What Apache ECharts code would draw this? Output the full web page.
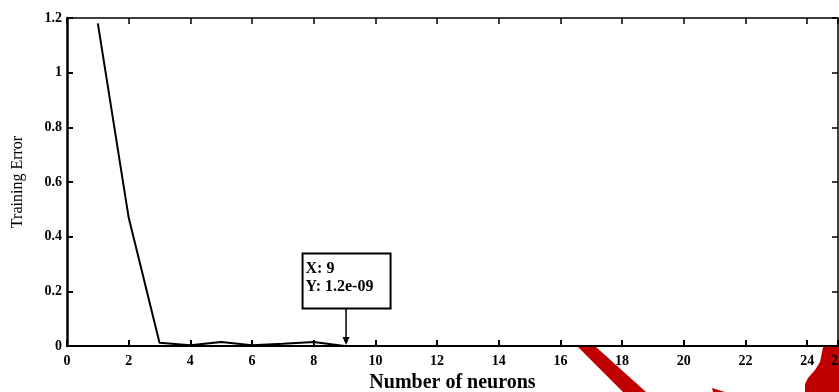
<!DOCTYPE html>
<html>
<head>
<meta charset="utf-8">
<script src="https://cdn.jsdelivr.net/npm/echarts@6/dist/echarts.min.js"></script>
<style>
html,body{margin:0;padding:0;background:#fff;}
#chart{width:839px;height:392px;}
</style>
</head>
<body>
<div id="chart"></div>
<script>
// ---- data ----
const neurons = [1, 2, 3, 4, 5, 6, 7, 8, 9];
const trainingError = [1.18, 0.47, 0.012, 0.003, 0.015, 0.003, 0.008, 0.015, 1.2e-9];
const xRange = [0, 25];
const yRange = [0, 1.2];
const datatipPoint = [9, 1.2e-9];
const datatipLines = ['X: 9', 'Y: 1.2e-09'];
const xTitle = 'Number of neurons';
const yTitle = 'Training Error';

const FONT = '"Liberation Serif", "DejaVu Serif", serif';
const chart = echarts.init(document.getElementById('chart'), null, {renderer: 'canvas'});

const tickLabel = {fontFamily: FONT, fontSize: 14, fontWeight: 'bold', color: '#000'};

chart.setOption({
  animation: false,
  backgroundColor: '#fff',
  grid: {left: 67, top: 18, right: 1, bottom: 46, containLabel: false, outerBoundsMode: 'none'},
  xAxis: [{
    type: 'value', min: xRange[0], max: xRange[1], interval: 2, position: 'bottom',
    name: xTitle, nameLocation: 'middle', nameGap: 26,
    nameTextStyle: {fontFamily: FONT, fontSize: 20, fontWeight: 'bold', color: '#000'},
    axisLine: {show: true, onZero: false, lineStyle: {color: '#000', width: 2}},
    axisTick: {show: true, inside: true, length: 6, lineStyle: {color: '#000', width: 2}},
    axisLabel: Object.assign({margin: 8}, tickLabel),
    splitLine: {show: false}
  }, {
    type: 'value', min: xRange[0], max: xRange[1], interval: 2, position: 'top',
    axisLine: {show: true, onZero: false, lineStyle: {color: '#000', width: 1.5}},
    axisTick: {show: true, inside: true, length: 6, lineStyle: {color: '#000', width: 1.5}},
    axisLabel: {show: false},
    splitLine: {show: false}
  }],
  yAxis: [{
    type: 'value', min: yRange[0], max: yRange[1], interval: 0.2, position: 'left',
    name: yTitle, nameLocation: 'middle', nameGap: 41, nameRotate: 90,
    nameTextStyle: {fontFamily: FONT, fontSize: 16, color: '#000'},
    axisLine: {show: true, onZero: false, lineStyle: {color: '#000', width: 2.5}},
    axisTick: {show: true, inside: true, length: 6, lineStyle: {color: '#000', width: 2}},
    axisLabel: Object.assign({margin: 5, formatter: v => String(+v.toFixed(1))}, tickLabel),
    splitLine: {show: false}
  }, {
    type: 'value', min: yRange[0], max: yRange[1], interval: 0.2, position: 'right',
    axisLine: {show: true, onZero: false, lineStyle: {color: '#000', width: 1.5}},
    axisTick: {show: true, inside: true, length: 6, lineStyle: {color: '#000', width: 1.5}},
    axisLabel: {show: false},
    splitLine: {show: false}
  }],
  series: [{
    type: 'line',
    data: neurons.map((x, i) => [x, trainingError[i]]),
    showSymbol: false,
    lineStyle: {color: '#000', width: 2},
    clip: false,
    z: 3
  }]
});

const p = chart.convertToPixel({xAxisIndex: 0, yAxisIndex: 0}, datatipPoint);
const px = p[0], py = p[1];

chart.setOption({
  graphic: [
    // red overlay strokes (decoration in reference image)
    {type: 'polygon', z: -10, silent: true, shape: {points: [[578, 347], [596, 347], [646, 392], [623, 392]]}, style: {fill: '#c00000'}},
    {type: 'polygon', z: -10, silent: true, shape: {points: [[712, 388], [713, 392], [725, 392]]}, style: {fill: '#c00000'}},
    {type: 'polygon', z: -10, silent: true, shape: {points: [[823, 347], [839, 347], [839, 392], [805, 392], [805, 384], [808, 378], [815, 370], [820, 362]]}, style: {fill: '#c00000'}},
    // datatip box
    {type: 'rect', z: 10, shape: {x: px - 42, y: py - 92.5, width: 88, height: 55},
      style: {fill: '#fff', stroke: '#000', lineWidth: 2}},
    {type: 'text', z: 11, x: px - 39, y: py - 77.5,
      style: {text: datatipLines[0], font: 'bold 16px ' + FONT, fill: '#000', verticalAlign: 'middle', align: 'left'}},
    {type: 'text', z: 11, x: px - 39, y: py - 59,
      style: {text: datatipLines[1], font: 'bold 16px ' + FONT, fill: '#000', verticalAlign: 'middle', align: 'left'}},
    {type: 'line', z: 10, shape: {x1: px + 1.5, y1: py - 37.5, x2: px + 1.5, y2: py - 4},
      style: {stroke: '#000', lineWidth: 1.5}},
    {type: 'polygon', z: 10, shape: {points: [[px - 2, py - 9], [px + 5, py - 9], [px + 1.5, py - 1]]},
      style: {fill: '#000'}}
  ]
});
</script>
</body>
</html>
